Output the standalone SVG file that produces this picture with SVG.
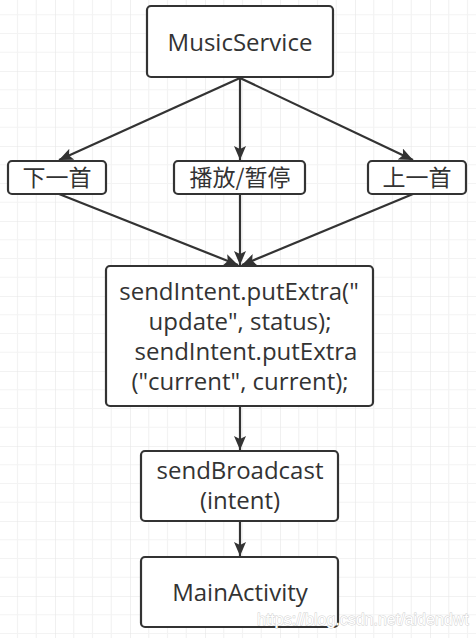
<svg xmlns="http://www.w3.org/2000/svg" width="476" height="638" viewBox="0 0 476 638">
<style>
.node rect{fill:#fff;stroke:#333;stroke-width:2.2}
.node text{font-family:"Open Sans","Noto Sans CJK SC",sans-serif;font-size:24px;fill:#333;text-anchor:middle}
.node text.cjk{font-family:"Noto Sans CJK SC",sans-serif;font-size:23px}
.edge{stroke:#333;stroke-width:2.2;fill:none;marker-end:url(#arr)}
.wm{font-family:"Liberation Sans",Arial,sans-serif;font-size:16px;fill:#fff;stroke:#cfcfcf;stroke-width:0.9;paint-order:stroke}
</style>
<defs>
<pattern id="grid" patternUnits="userSpaceOnUse" x="55" y="71" width="75" height="75">
<path d="M18.75 0V75M37.5 0V75M56.25 0V75M0 18.75H75M0 37.5H75M0 56.25H75" stroke="#f3f3f3" stroke-width="1.2" fill="none"/>
<path d="M0 0V75M0 0H75" stroke="#e6e6e6" stroke-width="1.2" fill="none"/>
</pattern>
<marker id="arr" markerUnits="userSpaceOnUse" viewBox="0 0 15 12" refX="14" refY="6" markerWidth="15" markerHeight="12" orient="auto">
<path d="M0 0L14 6L0 12L3 6Z" fill="#333"/>
</marker>
</defs>
<rect width="476" height="638" fill="#fff"/>
<rect width="476" height="638" fill="url(#grid)"/>
<g id="connectors">
<path class="edge" d="M240 78L59 160"/>
<path class="edge" d="M240 78V160"/>
<path class="edge" d="M240 78L413 160"/>
<path class="edge" d="M59 194L238 265"/>
<path class="edge" d="M240 194V265"/>
<path class="edge" d="M413 194L242 265"/>
<path class="edge" d="M240 407V450"/>
<path class="edge" d="M240 522V556"/>
</g>
<g id="musicservice" class="node">
<rect x="147" y="6" width="186" height="71" rx="4"/>
<text x="240" y="51">MusicService</text>
</g>
<g id="next" class="node">
<rect x="8" y="161" width="98" height="33" rx="4"/>
<text class="cjk" x="57" y="186">下一首</text>
</g>
<g id="playpause" class="node">
<rect x="174" y="161" width="131" height="33" rx="4"/>
<text class="cjk" x="240" y="186">播放/暂停</text>
</g>
<g id="prev" class="node">
<rect x="368" y="161" width="98" height="33" rx="4"/>
<text class="cjk" x="417" y="186">上一首</text>
</g>
<g id="putextra" class="node">
<rect x="106" y="266" width="267" height="140" rx="4"/>
<text x="239" y="300">sendIntent.putExtra("</text>
<text x="240" y="330">update", status);</text>
<text x="246" y="360">sendIntent.putExtra</text>
<text x="240" y="390">("current", current);</text>
</g>
<g id="sendbroadcast" class="node">
<rect x="141" y="451" width="197" height="70" rx="4"/>
<text x="240" y="479">sendBroadcast</text>
<text x="240" y="509">(intent)</text>
</g>
<g id="mainactivity" class="node">
<rect x="141" y="557" width="197" height="70" rx="4"/>
<text x="240" y="601">MainActivity</text>
</g>
<text class="wm" x="257" y="625">https://blog.csdn.net/aidendwt</text>
</svg>
